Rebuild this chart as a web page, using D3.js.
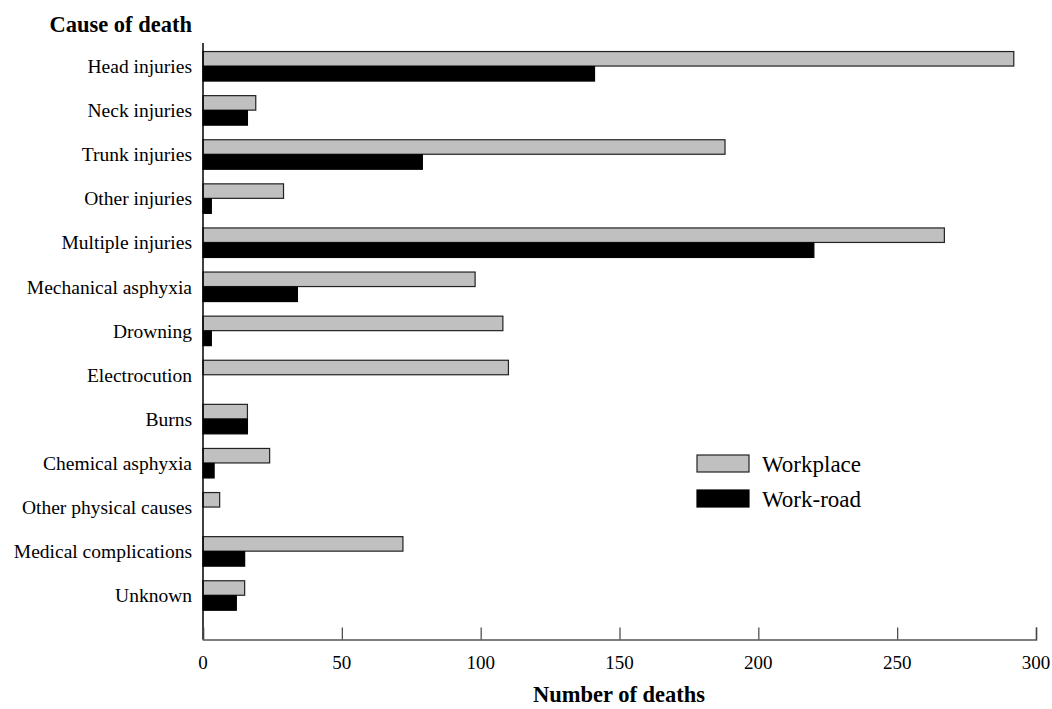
<!DOCTYPE html>
<html>
<head>
<meta charset="utf-8">
<script src="https://cdn.jsdelivr.net/npm/d3@7"></script>
<style>
  html, body { margin: 0; padding: 0; background: #fff; }
  svg { display: block; font-family: "Liberation Serif", "Times New Roman", serif; }
</style>
</head>
<body>
<svg id="chart" width="1052" height="709"></svg>
<script>
// Causes of death, split by where the fatal incident happened
const causes = [
  "Head injuries", "Neck injuries", "Trunk injuries", "Other injuries",
  "Multiple injuries", "Mechanical asphyxia", "Drowning", "Electrocution",
  "Burns", "Chemical asphyxia", "Other physical causes",
  "Medical complications", "Unknown"
];
const workplace = [292, 19, 188, 29, 267, 98, 108, 110, 16, 24, 6, 72, 15];
const workRoad  = [141, 16, 79, 3, 220, 34, 3, 0, 16, 4, 0, 15, 12];
const seriesNames = ["Workplace", "Work-road"];
const xTicks = [0, 50, 100, 150, 200, 250, 300];

const svg = d3.select("#chart");

const x = d3.scaleLinear().domain([0, 300]).range([203, 1036]);
const y = d3.scaleBand().domain(causes).range([44, 617.3]).padding(0);
const barH = 15;

const fills = ["#c0c0c0", "#000000"];
const strokes = ["#222222", "#000000"];

// Bars: workplace above the band centre, work-road below
const rows = causes.map((c, i) => ({ cause: c, vals: [workplace[i], workRoad[i]] }));
rows.forEach(r => {
  const cy = y(r.cause) + y.bandwidth() / 2;
  r.vals.forEach((v, k) => {
    if (v <= 0) return;
    svg.append("rect")
      .attr("x", x(0))
      .attr("y", cy - barH + k * barH + 0.5)
      .attr("width", x(v) - x(0))
      .attr("height", barH - 0.5)
      .attr("fill", fills[k])
      .attr("stroke", strokes[k])
      .attr("stroke-width", 1.2);
  });
});

// Vertical axis line
svg.append("line")
  .attr("x1", 203).attr("x2", 203)
  .attr("y1", 43).attr("y2", 639.5)
  .attr("stroke", "#000").attr("stroke-width", 1.5);

// Category labels
svg.append("g").selectAll("text")
  .data(causes).join("text")
  .attr("x", 192)
  .attr("y", d => y(d) + y.bandwidth() / 2 + 7)
  .attr("text-anchor", "end")
  .attr("font-size", 19.5)
  .attr("fill", "#000")
  .text(d => d);

// Horizontal axis with ticks pointing up
const xAxis = svg.append("g")
  .attr("transform", "translate(0,639.5)")
  .call(d3.axisTop(x).tickValues(xTicks).tickSize(12).tickFormat(""));
xAxis.select(".domain").attr("stroke", "#555").attr("stroke-width", 1.5);
xAxis.selectAll(".tick line").attr("stroke", "#444").attr("stroke-width", 1.2);

svg.append("g").selectAll("text")
  .data(xTicks).join("text")
  .attr("x", d => x(d))
  .attr("y", 669)
  .attr("text-anchor", "middle")
  .attr("font-size", 19)
  .text(d => d);

// Axis titles
svg.append("text")
  .attr("x", 192).attr("y", 32)
  .attr("text-anchor", "end")
  .attr("font-size", 22.5).attr("font-weight", "bold")
  .text("Cause of death");

svg.append("text")
  .attr("x", 619).attr("y", 702)
  .attr("text-anchor", "middle")
  .attr("font-size", 22.5).attr("font-weight", "bold")
  .text("Number of deaths");

// Legend
const legend = svg.append("g");
seriesNames.forEach((name, k) => {
  const ly = 455 + k * 35;
  legend.append("rect")
    .attr("x", 697).attr("y", ly)
    .attr("width", 52).attr("height", 17)
    .attr("fill", fills[k]).attr("stroke", strokes[k]).attr("stroke-width", 1.2);
  legend.append("text")
    .attr("x", 762).attr("y", ly + 17)
    .attr("font-size", 23)
    .text(name);
});
</script>
</body>
</html>
